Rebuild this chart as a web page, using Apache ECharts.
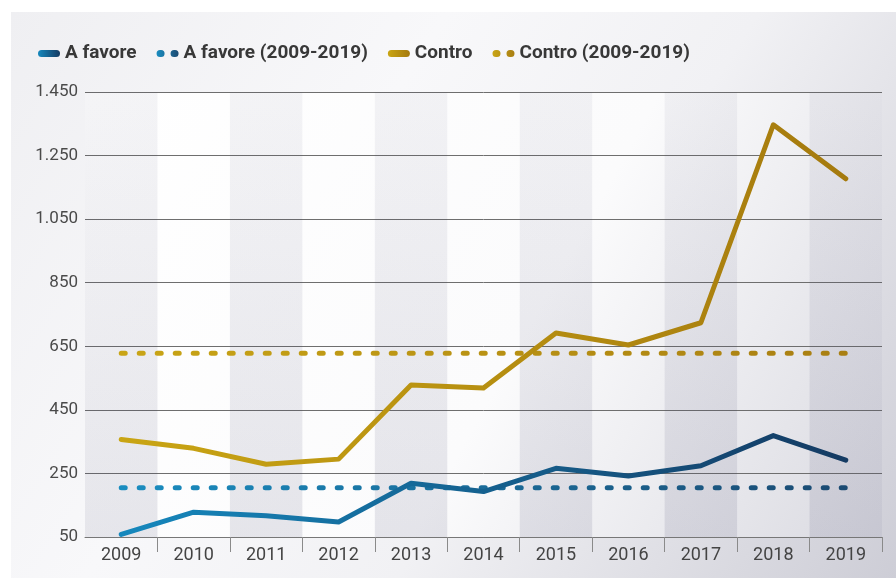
<!DOCTYPE html>
<html>
<head>
<meta charset="utf-8">
<script src="https://cdn.jsdelivr.net/npm/echarts@6/dist/echarts.min.js"></script>
<style>
  html, body { margin: 0; padding: 0; background: #ffffff; }
  #chart { width: 896px; height: 578px; }
</style>
</head>
<body>
<div id="chart"></div>
<script>
// Years on the horizontal axis
const years = ['2009', '2010', '2011', '2012', '2013', '2014', '2015', '2016', '2017', '2018', '2019'];

// Yearly counts
const aFavore = [58, 128, 117, 97, 219, 193, 266, 242, 274, 369, 292];
const contro = [357, 329, 279, 295, 528, 519, 692, 654, 724, 1347, 1177];

// Period averages 2009-2019, drawn as flat dotted lines
const aFavoreMedia = [205, 205, 205, 205, 205, 205, 205, 205, 205, 205, 205];
const contraMedia = [628, 628, 628, 628, 628, 628, 628, 628, 628, 628, 628];

// Value axis ticks
const yTicks = [50, 250, 450, 650, 850, 1050, 1250, 1450];

const FONT = 'Roboto';

function hGrad(c0, c1) {
  return new echarts.graphic.LinearGradient(0, 0, 1, 0, [
    { offset: 0, color: c0 },
    { offset: 1, color: c1 }
  ]);
}

const blueLine = () => hGrad('#1688bd', '#143a62');
const goldLine = () => hGrad('#c9a514', '#a57a0e');
const blueDots = () => hGrad('#1a8dc0', '#1b4a72');
const goldDots = () => hGrad('#c9a516', '#a97f12');

const capsuleIcon = 'path://M3.5,0 L18.5,0 A3.5,3.5 0 0 1 18.5,7 L3.5,7 A3.5,3.5 0 0 1 3.5,0 Z';
const dotsIcon = 'path://M3.5,0 L4.5,0 A3.5,3.5 0 0 1 4.5,7 L3.5,7 A3.5,3.5 0 0 1 3.5,0 Z M17.5,0 L18.5,0 A3.5,3.5 0 0 1 18.5,7 L17.5,7 A3.5,3.5 0 0 1 17.5,0 Z';

function fmt(v) {
  return String(v).replace(/\B(?=(\d{3})+(?!\d))/g, '.');
}

const chart = echarts.init(document.getElementById('chart'), null, { renderer: 'canvas' });

const option = {
  animation: false,
  backgroundColor: '#ffffff',
  graphic: [{
    type: 'rect',
    left: 11,
    top: 12,
    silent: true,
    z: -10,
    shape: { width: 885, height: 566 },
    style: {
      fill: new echarts.graphic.LinearGradient(0, 0, 1, 1, [
        { offset: 0, color: '#efeff2' },
        { offset: 0.35, color: '#f8f8fa' },
        { offset: 0.6, color: '#f1f1f4' },
        { offset: 1, color: '#cdcdd6' }
      ])
    }
  }],
  legend: {
    left: 33,
    top: 39,
    itemWidth: 22,
    itemHeight: 7,
    itemGap: 20,
    textStyle: { fontFamily: FONT, fontSize: 19, fontWeight: 'bold', color: '#383838' },
    itemStyle: { borderWidth: 0 },
    data: [
      { name: 'A favore', icon: capsuleIcon, itemStyle: { color: blueLine() } },
      { name: 'A favore (2009-2019)', icon: dotsIcon, itemStyle: { color: blueDots() } },
      { name: 'Contro', icon: capsuleIcon, itemStyle: { color: goldLine() } },
      { name: 'Contro (2009-2019)', icon: dotsIcon, itemStyle: { color: goldDots() } }
    ]
  },
  grid: {
    left: 85,
    right: 14,
    top: 92,
    bottom: 41,
    show: true,
    borderWidth: 0,
    backgroundColor: new echarts.graphic.LinearGradient(0, 0, 1, 1, [
      { offset: 0, color: '#ffffff' },
      { offset: 0.55, color: '#fbfbfc' },
      { offset: 1, color: '#dadae1' }
    ])
  },
  xAxis: {
    type: 'category',
    data: years,
    boundaryGap: true,
    axisLine: { show: true, lineStyle: { color: '#777777', width: 1 } },
    axisTick: {
      show: true,
      // separators only between years, none at the two ends
      interval: function (index) { return index > 0 && index < years.length; },
      length: 15,
      lineStyle: { color: '#8a8a8a', width: 1 }
    },
    axisLabel: { interval: 0, margin: 9, fontFamily: FONT, fontSize: 18, color: '#444444' },
    splitLine: { show: false },
    splitArea: {
      show: true,
      interval: 0,
      areaStyle: {
        color: [
          new echarts.graphic.LinearGradient(0, 0, 0, 1, [
            { offset: 0, color: 'rgba(60,60,100,0.055)' },
            { offset: 1, color: 'rgba(60,60,100,0.12)' }
          ]),
          'rgba(0,0,0,0)'
        ]
      }
    }
  },
  yAxis: {
    type: 'value',
    min: yTicks[0],
    max: yTicks[yTicks.length - 1],
    interval: yTicks[1] - yTicks[0],
    axisLine: { show: false },
    axisTick: { show: false },
    axisLabel: {
      margin: 7,
      fontFamily: FONT,
      fontSize: 17,
      color: '#4a4a4a',
      formatter: fmt
    },
    splitLine: { show: true, lineStyle: { color: '#6e6e6e', width: 1 } }
  },
  series: [
    {
      name: 'A favore (2009-2019)',
      type: 'line',
      data: aFavoreMedia,
      symbol: 'none',
      z: 2,
      itemStyle: { color: blueDots() },
      lineStyle: { width: 5, color: blueDots(), type: [4, 14], cap: 'round' }
    },
    {
      name: 'Contro (2009-2019)',
      type: 'line',
      data: contraMedia,
      symbol: 'none',
      z: 2,
      itemStyle: { color: goldDots() },
      lineStyle: { width: 5, color: goldDots(), type: [4, 14], cap: 'round' }
    },
    {
      name: 'A favore',
      type: 'line',
      data: aFavore,
      symbol: 'none',
      z: 3,
      itemStyle: { color: blueLine() },
      lineStyle: { width: 5, color: blueLine(), cap: 'round', join: 'round' }
    },
    {
      name: 'Contro',
      type: 'line',
      data: contro,
      symbol: 'none',
      z: 3,
      itemStyle: { color: goldLine() },
      lineStyle: { width: 5, color: goldLine(), cap: 'round', join: 'round' }
    }
  ]
};

chart.setOption(option);
</script>
</body>
</html>
